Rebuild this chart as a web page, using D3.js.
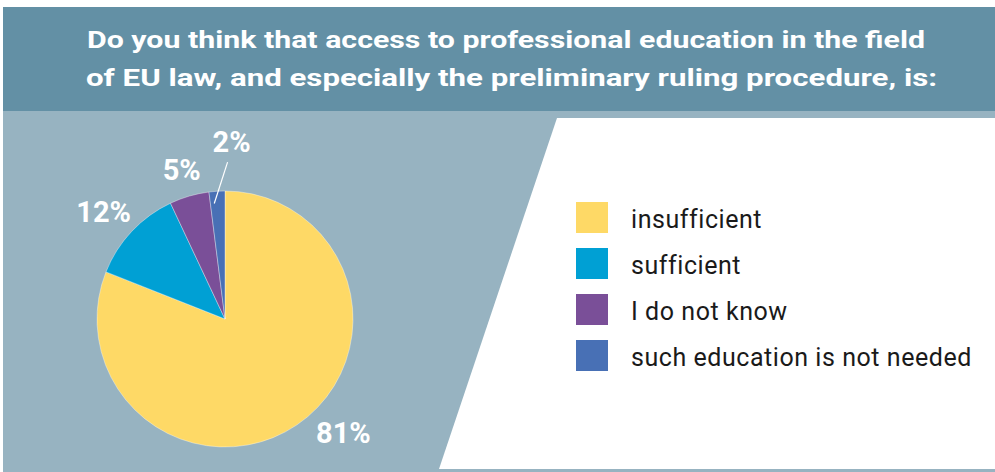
<!DOCTYPE html>
<html>
<head>
<meta charset="utf-8">
<script src="https://cdn.jsdelivr.net/npm/d3@7"></script>
<style>
  html, body { margin: 0; padding: 0; background: #ffffff; }
  svg { display: block; }
</style>
</head>
<body>
<svg id="chart" width="995" height="472"></svg>
<script>
// Survey answers, share of respondents (%)
const categories = ["insufficient", "sufficient", "I do not know", "such education is not needed"];
const shares = [81, 12, 5, 2];
const sliceColors = ["#fed966", "#00a0d4", "#7a4f98", "#4870b5"];
const titleLines = [
  "Do you think that access to professional education in the field",
  "of EU law, and especially the preliminary ruling procedure, is:"
];

const W = 995, H = 472;
const svg = d3.select("#chart");

// Background panels
svg.append("rect").attr("x", 3).attr("y", 7).attr("width", W - 3).attr("height", 104).attr("fill", "#6390a5");
svg.append("rect").attr("x", 3).attr("y", 111).attr("width", W - 3).attr("height", H - 111).attr("fill", "#97b3c1");
svg.append("polygon")
  .attr("points", [[557, 118], [W, 118], [W, 469], [439, 469]].map(p => p.join(",")).join(" "))
  .attr("fill", "#ffffff");

// Title
const titleWidths = [838, 851];
svg.append("g").selectAll("text").data(titleLines).join("text")
  .attr("x", (d, i) => i === 0 ? 87 : 86)
  .attr("y", (d, i) => 48 + i * 38)
  .attr("font-family", "Roboto, 'DejaVu Sans', sans-serif")
  .attr("font-weight", 700)
  .attr("font-size", 23.5)
  .attr("fill", "#ffffff")
  .attr("textLength", (d, i) => titleWidths[i])
  .attr("lengthAdjust", "spacingAndGlyphs")
  .text(d => d);

// Pie
const cx = 225, cy = 319, R = 128;
const data = categories.map((c, i) => ({ category: c, value: shares[i], color: sliceColors[i] }));
const pie = d3.pie().value(d => d.value).sort(null);
const arcs = pie(data);
const arc = d3.arc().innerRadius(0).outerRadius(R);

const g = svg.append("g").attr("transform", `translate(${cx},${cy})`);
g.selectAll("path").data(arcs).join("path")
  .attr("d", arc)
  .attr("fill", d => d.data.color)
  .attr("stroke", "rgba(255,255,255,0.45)")
  .attr("stroke-width", 0.8);

// Percentage labels placed around the pie; small angle/radius tweaks per slice
const labelTweak = {
  "insufficient": { da: -0.21, r: 164 },
  "sufficient": { da: -0.03, r: 162 },
  "I do not know": { da: 0.0, r: 155 },
  "such education is not needed": { da: 0.1, r: 177 }
};
function labelPos(d) {
  const t = labelTweak[d.data.category];
  const a = (d.startAngle + d.endAngle) / 2 + t.da;
  return [Math.sin(a) * t.r, -Math.cos(a) * t.r];
}

// Leader line for the smallest slice
const small = arcs[arcs.length - 1];
const smallMid = (small.startAngle + small.endAngle) / 2;
const lp = labelPos(small);
g.append("line")
  .attr("x1", Math.sin(smallMid - 0.03) * 116).attr("y1", -Math.cos(smallMid - 0.03) * 116)
  .attr("x2", lp[0] - 4).attr("y2", lp[1] + 20)
  .attr("stroke", "#ffffff").attr("stroke-width", 1.2);

g.selectAll("text.pct").data(arcs).join("text")
  .attr("class", "pct")
  .attr("x", d => labelPos(d)[0])
  .attr("y", d => labelPos(d)[1])
  .attr("dy", "0.35em")
  .attr("text-anchor", "middle")
  .attr("font-family", "Roboto, 'DejaVu Sans', sans-serif")
  .attr("font-weight", 700)
  .attr("font-size", 29)
  .attr("fill", "#ffffff")
  .text(d => d.data.value + "%");

// Legend
const legend = svg.append("g").attr("transform", "translate(576,202)");
const rows = legend.selectAll("g").data(data).join("g")
  .attr("transform", (d, i) => `translate(0,${i * 46})`);
rows.append("rect").attr("width", 32).attr("height", 31).attr("fill", d => d.color);
rows.append("text")
  .attr("x", 55).attr("y", 26)
  .attr("font-family", "Roboto, 'DejaVu Sans', sans-serif")
  .attr("font-size", 25)
  .attr("letter-spacing", 0.55)
  .attr("fill", "#1a1a1a")
  .text(d => d.category);
</script>
</body>
</html>
